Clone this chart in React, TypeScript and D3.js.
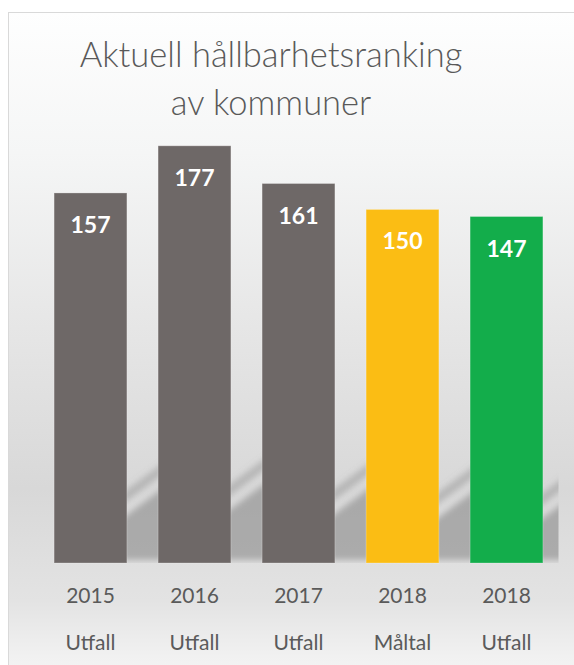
import { useEffect, useRef } from "react";
import * as d3 from "d3";

const years = ["2015", "2016", "2017", "2018", "2018"];
const kinds = ["Utfall", "Utfall", "Utfall", "Måltal", "Utfall"];
const values = [157, 177, 161, 150, 147];
const barColors = ["#6e6867", "#6e6867", "#6e6867", "#fbbd14", "#13ad4b"];
const titleLines = ["Aktuell hållbarhetsranking", "av kommuner"];

const W = 574;
const H = 665;

export default function App() {
  const svgRef = useRef<SVGSVGElement | null>(null);

  useEffect(() => {
    const svg = d3.select(svgRef.current);
    svg.selectAll("*").remove();

    const plot = { left: 38.5, right: 558.5, bottom: 563 };
    const font = "Lato, 'Open Sans', sans-serif";

    const x = d3
      .scaleBand<number>()
      .domain(d3.range(values.length))
      .range([plot.left, plot.right])
      .paddingInner(0.3)
      .paddingOuter(0.15);

    const y = d3.scaleLinear().domain([0, 180]).range([plot.bottom, plot.bottom - 180 * 2.357]);

    const defs = svg.append("defs");
    const bg = defs
      .append("linearGradient")
      .attr("id", "bg")
      .attr("x1", 0)
      .attr("y1", 0)
      .attr("x2", 0)
      .attr("y2", 1);
    [
      [0, "#fefefe"],
      [0.2, "#f5f6f6"],
      [0.45, "#e6e6e6"],
      [0.68, "#d8d8d8"],
      [0.84, "#e3e3e3"],
      [0.92, "#f1f1f1"],
      [1, "#fbfbfb"],
    ].forEach(([o, c]) => bg.append("stop").attr("offset", o as number).attr("stop-color", c as string));

    defs
      .append("filter")
      .attr("id", "blur")
      .attr("x", "-50%")
      .attr("y", "-50%")
      .attr("width", "200%")
      .attr("height", "200%")
      .append("feGaussianBlur")
      .attr("stdDeviation", 3);

    defs
      .append("clipPath")
      .attr("id", "plotClip")
      .append("rect")
      .attr("x", plot.left)
      .attr("y", 0)
      .attr("width", plot.right - plot.left)
      .attr("height", plot.bottom);

    // chart area
    svg
      .append("rect")
      .attr("x", 8.5)
      .attr("y", 12.5)
      .attr("width", 620)
      .attr("height", 700)
      .attr("fill", "url(#bg)")
      .attr("stroke", "#d9d9d9");

    // title
    svg
      .append("text")
      .attr("text-anchor", "middle")
      .attr("fill", "#595959")
      .attr("font-family", font)
      .attr("font-weight", 300)
      .attr("font-size", 34.5)
      .selectAll("tspan")
      .data(titleLines)
      .join("tspan")
      .attr("x", 271)
      .attr("y", (_, i) => 67 + i * 48)
      .text((d) => d);

    // shadows behind bars
    const slope = 0.74;
    const sh = svg.append("g").attr("clip-path", "url(#plotClip)").attr("filter", "url(#blur)");
    values.forEach((v, i) => {
      const x1 = (x(i) as number) + x.bandwidth();
      const hb = (plot.bottom - y(v)) * 0.13;
      const l = x1 - 12;
      const r = x1 + 40;
      const yl = plot.bottom - hb + (x1 - l) * slope;
      const yr = plot.bottom - hb - (r - x1) * slope;
      sh.append("polygon")
        .attr("points", [[l, plot.bottom - 3], [r, plot.bottom - 3], [r, yr], [l, yl]].map((p) => p.join(",")).join(" "))
        .attr("fill", "#8a8a8a")
        .attr("opacity", 0.62);
      const o = 20;
      sh.append("polygon")
        .attr(
          "points",
          [[l, yl - o + 6], [r, yr - o + 6], [r, yr - o - 5], [l, yl - o - 5]].map((p) => p.join(",")).join(" ")
        )
        .attr("fill", "#8a8a8a")
        .attr("opacity", 0.45);
    });

    // bars
    svg
      .append("g")
      .selectAll("rect")
      .data(values)
      .join("rect")
      .attr("x", (_, i) => x(i) as number)
      .attr("y", (d) => y(d))
      .attr("width", x.bandwidth())
      .attr("height", (d) => plot.bottom - y(d))
      .attr("fill", (_, i) => barColors[i])
      .attr("stroke", "#ffffff")
      .attr("stroke-opacity", 0.25)
      .attr("stroke-width", 1);

    // value labels
    svg
      .append("g")
      .selectAll("text")
      .data(values)
      .join("text")
      .attr("x", (_, i) => (x(i) as number) + x.bandwidth() / 2)
      .attr("y", (d) => y(d) + 40)
      .attr("text-anchor", "middle")
      .attr("fill", "#ffffff")
      .attr("font-family", font)
      .attr("font-weight", "bold")
      .attr("font-size", 23)
      .text((d) => d);

    // category labels
    const cat = svg.append("g").attr("fill", "#5a5a5a").attr("font-family", font).attr("font-size", 21);
    cat
      .selectAll("text.yr")
      .data(years)
      .join("text")
      .attr("class", "yr")
      .attr("x", (_, i) => (x(i) as number) + x.bandwidth() / 2)
      .attr("y", 603)
      .attr("text-anchor", "middle")
      .text((d) => d);
    cat
      .selectAll("text.kd")
      .data(kinds)
      .join("text")
      .attr("class", "kd")
      .attr("x", (_, i) => (x(i) as number) + x.bandwidth() / 2)
      .attr("y", 650)
      .attr("text-anchor", "middle")
      .text((d) => d);
  }, []);

  return (
    <svg
      ref={svgRef}
      width={W}
      height={H}
      style={{ position: "absolute", left: 0, top: 0, display: "block", background: "#ffffff" }}
    ></svg>
  );
}
